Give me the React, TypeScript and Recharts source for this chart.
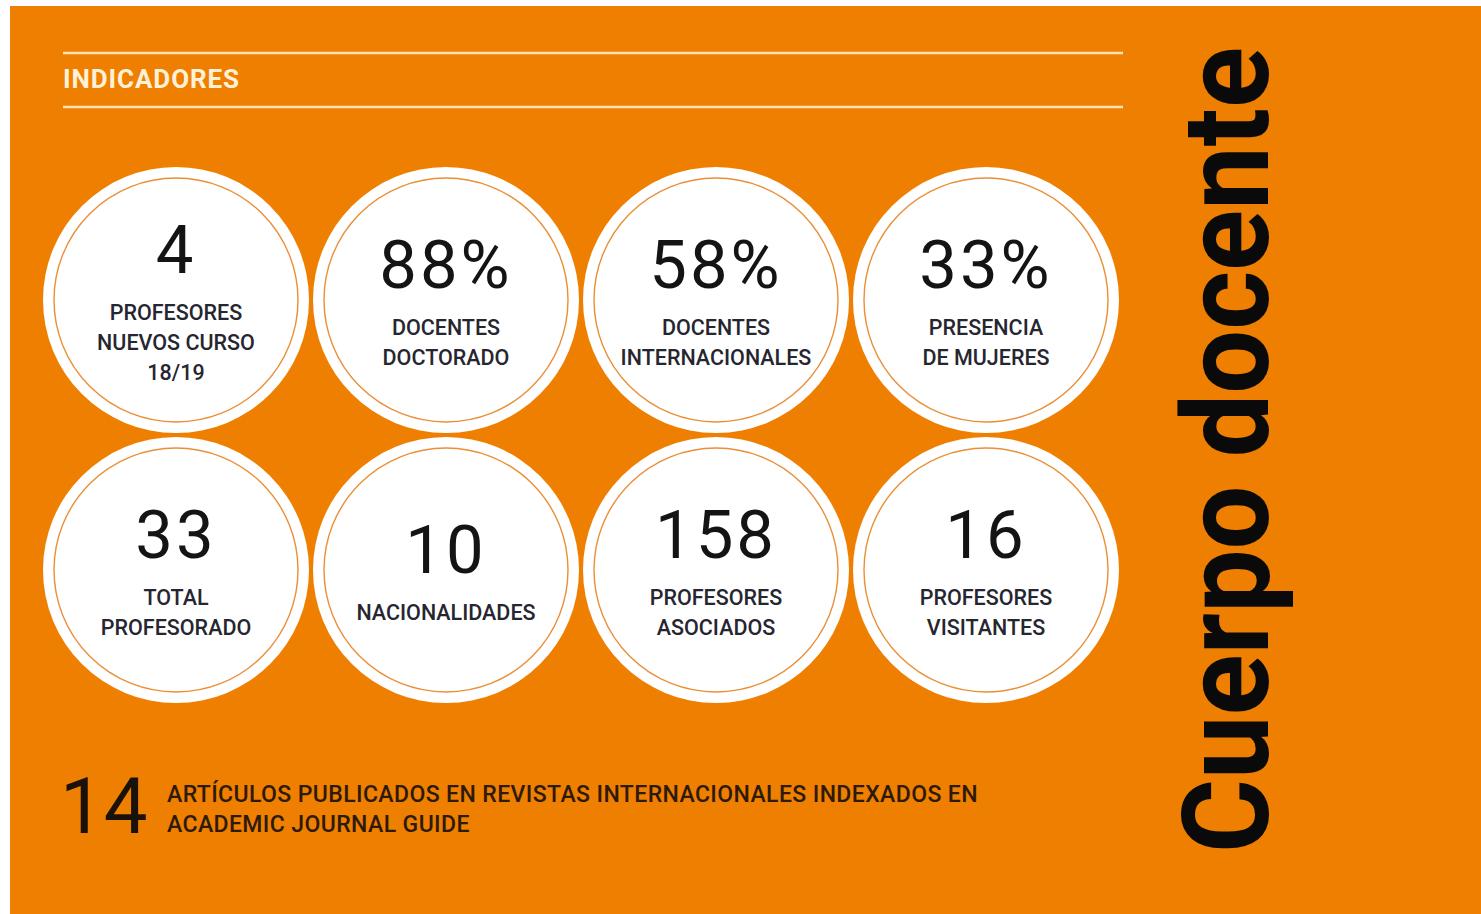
import React from 'react';
import { ScatterChart, Scatter, XAxis, YAxis } from 'recharts';

// indicator values, suffixes and captions
const values = [4, 88, 58, 33, 33, 10, 158, 16];
const suffixes = ['', '%', '%', '%', '', '', '', ''];
const captions = [
    ['PROFESORES', 'NUEVOS CURSO', '18/19'],
    ['DOCENTES', 'DOCTORADO'],
    ['DOCENTES', 'INTERNACIONALES'],
    ['PRESENCIA', 'DE MUJERES'],
    ['TOTAL', 'PROFESORADO'],
    ['NACIONALIDADES'],
    ['PROFESORES', 'ASOCIADOS'],
    ['PROFESORES', 'VISITANTES'],
];
const gridCols = [0, 1, 2, 3, 0, 1, 2, 3];
const gridRows = [0, 0, 0, 0, 1, 1, 1, 1];

const articles = 14;
const articleLines = [
    'ARTÍCULOS PUBLICADOS EN REVISTAS INTERNACIONALES INDEXADOS EN',
    'ACADEMIC JOURNAL GUIDE',
];
const sectionTitle = 'INDICADORES';
const pageTitle = 'Cuerpo docente';

const data = values.map((v, i) => ({
    col: gridCols[i],
    row: gridRows[i],
    value: v,
    suffix: suffixes[i],
    caption: captions[i],
}));

const W = 1481;
const H = 914;
const STEP = 270;
const X0 = 176;
const Y0 = 300;
const ORANGE = '#EF7F00';
const FONT = 'Roboto, "Noto Sans", sans-serif';

const Badge = (props: any) => {
    const { cx, cy, payload } = props;
    const n = payload.caption.length;
    const base = cy + 3 - 15 * (n - 1);
    return (
        <g>
            <circle cx={cx} cy={cy} r={133} fill="#ffffff" />
            <circle cx={cx} cy={cy} r={122} fill="none" stroke="#EA8F38" strokeWidth={1.4} />
            <text
                x={cx}
                y={base}
                textAnchor="middle"
                fontFamily={FONT}
                fontSize={67}
                fontWeight={400}
                letterSpacing={3}
                fill="#141414"
            >
                {payload.value}{payload.suffix}
            </text>
            {payload.caption.map((line: string, i: number) => (
                <text
                    key={i}
                    x={cx}
                    y={base + 47 + i * 30}
                    textAnchor="middle"
                    fontFamily={FONT}
                    fontSize={21.5}
                    fontWeight={500}
                    fill="#262630"
                >
                    {line}
                </text>
            ))}
        </g>
    );
};

const App = () => {
    return (
        <div style={{ position: 'absolute', left: 0, top: 0, width: W, height: H, background: '#ffffff' }}>
            <svg width={W} height={H} style={{ position: 'absolute', left: 0, top: 0 }}>
                <rect x={10} y={6} width={W - 10} height={H - 6} fill={ORANGE} />
                <line x1={63} x2={1123} y1={53} y2={53} stroke="#FCE2B4" strokeWidth={2.5} />
                <line x1={63} x2={1123} y1={107} y2={107} stroke="#FCE2B4" strokeWidth={2.5} />
                <text x={63} y={88} fontFamily={FONT} fontSize={26} fontWeight={700} letterSpacing={0.9} fill="#FFF1D6">
                    {sectionTitle}
                </text>
                <text x={60} y={833} fontFamily={FONT} fontSize={78} fontWeight={400} fill="#1a1208">
                    {articles}
                </text>
                {articleLines.map((line, i) => (
                    <text
                        key={i}
                        x={167}
                        y={802 + i * 30}
                        fontFamily={FONT}
                        fontSize={23}
                        fontWeight={500}
                        letterSpacing={0.4}
                        fill="#2e1a08"
                    >
                        {line}
                    </text>
                ))}
                <text
                    transform="translate(1268, 853) rotate(-90)"
                    x={0}
                    y={0}
                    fontFamily={FONT}
                    fontSize={120}
                    fontWeight={700}
                    fill="#0a0a0a"
                    textLength={806}
                    lengthAdjust="spacingAndGlyphs"
                >
                    {pageTitle}
                </text>
            </svg>
            <div style={{ position: 'absolute', left: 0, top: 0 }}>
                <ScatterChart width={W} height={H} margin={{ top: 0, right: 0, bottom: 0, left: 0 }}>
                    <XAxis type="number" dataKey="col" domain={[-X0 / STEP, (W - X0) / STEP]} hide />
                    <YAxis type="number" dataKey="row" domain={[-Y0 / STEP, (H - Y0) / STEP]} reversed hide />
                    <Scatter data={data} shape={Badge} isAnimationActive={false} />
                </ScatterChart>
            </div>
        </div>
    );
};

export default App;
